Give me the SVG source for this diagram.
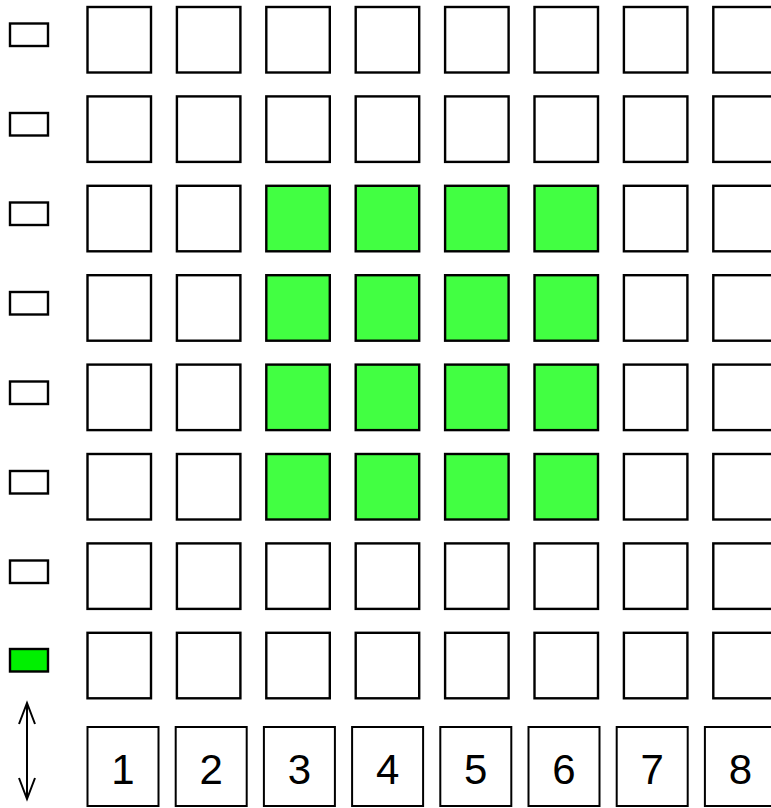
<svg xmlns="http://www.w3.org/2000/svg" width="771" height="808" viewBox="0 0 771 808">
<style>
.c{fill:#fff;stroke:#000;stroke-width:2.4}
.g{fill:#42ff42;stroke:#000;stroke-width:2.4}
.s{fill:#fff;stroke:#000;stroke-width:2.4}
.sg{fill:#00f000;stroke:#000;stroke-width:2.4}
.b{fill:#fff;stroke:#000;stroke-width:2}
.t{font-family:"Liberation Sans",Arial,sans-serif;font-size:42px;text-anchor:middle;fill:#000}
.a{fill:none;stroke:#000;stroke-width:2}
</style>
<rect width="771" height="808" fill="#fff"/>
<g id="indicators">
<rect id="ind1" class="s" x="10" y="23.5" width="38" height="22.5"/>
<rect id="ind2" class="s" x="10" y="113" width="38" height="22.5"/>
<rect id="ind3" class="s" x="10" y="202.5" width="38" height="22.5"/>
<rect id="ind4" class="s" x="10" y="292" width="38" height="22.5"/>
<rect id="ind5" class="s" x="10" y="381.5" width="38" height="22.5"/>
<rect id="ind6" class="s" x="10" y="471" width="38" height="22.5"/>
<rect id="ind7" class="s" x="10" y="560.5" width="38" height="22.5"/>
<rect id="ind8" class="sg" x="10" y="649" width="38" height="22.5"/>
</g>
<g id="grid">
<g id="row1">
<rect class="c" x="87.5" y="7" width="63.5" height="65.5"/>
<rect class="c" x="176.9" y="7" width="63.5" height="65.5"/>
<rect class="c" x="266.3" y="7" width="63.5" height="65.5"/>
<rect class="c" x="355.7" y="7" width="63.5" height="65.5"/>
<rect class="c" x="445.1" y="7" width="63.5" height="65.5"/>
<rect class="c" x="534.5" y="7" width="63.5" height="65.5"/>
<rect class="c" x="623.9" y="7" width="63.5" height="65.5"/>
<rect class="c" x="713.3" y="7" width="63.5" height="65.5"/>
</g>
<g id="row2">
<rect class="c" x="87.5" y="96.4" width="63.5" height="65.5"/>
<rect class="c" x="176.9" y="96.4" width="63.5" height="65.5"/>
<rect class="c" x="266.3" y="96.4" width="63.5" height="65.5"/>
<rect class="c" x="355.7" y="96.4" width="63.5" height="65.5"/>
<rect class="c" x="445.1" y="96.4" width="63.5" height="65.5"/>
<rect class="c" x="534.5" y="96.4" width="63.5" height="65.5"/>
<rect class="c" x="623.9" y="96.4" width="63.5" height="65.5"/>
<rect class="c" x="713.3" y="96.4" width="63.5" height="65.5"/>
</g>
<g id="row3">
<rect class="c" x="87.5" y="185.8" width="63.5" height="65.5"/>
<rect class="c" x="176.9" y="185.8" width="63.5" height="65.5"/>
<rect class="g" x="266.3" y="185.8" width="63.5" height="65.5"/>
<rect class="g" x="355.7" y="185.8" width="63.5" height="65.5"/>
<rect class="g" x="445.1" y="185.8" width="63.5" height="65.5"/>
<rect class="g" x="534.5" y="185.8" width="63.5" height="65.5"/>
<rect class="c" x="623.9" y="185.8" width="63.5" height="65.5"/>
<rect class="c" x="713.3" y="185.8" width="63.5" height="65.5"/>
</g>
<g id="row4">
<rect class="c" x="87.5" y="275.2" width="63.5" height="65.5"/>
<rect class="c" x="176.9" y="275.2" width="63.5" height="65.5"/>
<rect class="g" x="266.3" y="275.2" width="63.5" height="65.5"/>
<rect class="g" x="355.7" y="275.2" width="63.5" height="65.5"/>
<rect class="g" x="445.1" y="275.2" width="63.5" height="65.5"/>
<rect class="g" x="534.5" y="275.2" width="63.5" height="65.5"/>
<rect class="c" x="623.9" y="275.2" width="63.5" height="65.5"/>
<rect class="c" x="713.3" y="275.2" width="63.5" height="65.5"/>
</g>
<g id="row5">
<rect class="c" x="87.5" y="364.6" width="63.5" height="65.5"/>
<rect class="c" x="176.9" y="364.6" width="63.5" height="65.5"/>
<rect class="g" x="266.3" y="364.6" width="63.5" height="65.5"/>
<rect class="g" x="355.7" y="364.6" width="63.5" height="65.5"/>
<rect class="g" x="445.1" y="364.6" width="63.5" height="65.5"/>
<rect class="g" x="534.5" y="364.6" width="63.5" height="65.5"/>
<rect class="c" x="623.9" y="364.6" width="63.5" height="65.5"/>
<rect class="c" x="713.3" y="364.6" width="63.5" height="65.5"/>
</g>
<g id="row6">
<rect class="c" x="87.5" y="454" width="63.5" height="65.5"/>
<rect class="c" x="176.9" y="454" width="63.5" height="65.5"/>
<rect class="g" x="266.3" y="454" width="63.5" height="65.5"/>
<rect class="g" x="355.7" y="454" width="63.5" height="65.5"/>
<rect class="g" x="445.1" y="454" width="63.5" height="65.5"/>
<rect class="g" x="534.5" y="454" width="63.5" height="65.5"/>
<rect class="c" x="623.9" y="454" width="63.5" height="65.5"/>
<rect class="c" x="713.3" y="454" width="63.5" height="65.5"/>
</g>
<g id="row7">
<rect class="c" x="87.5" y="543.4" width="63.5" height="65.5"/>
<rect class="c" x="176.9" y="543.4" width="63.5" height="65.5"/>
<rect class="c" x="266.3" y="543.4" width="63.5" height="65.5"/>
<rect class="c" x="355.7" y="543.4" width="63.5" height="65.5"/>
<rect class="c" x="445.1" y="543.4" width="63.5" height="65.5"/>
<rect class="c" x="534.5" y="543.4" width="63.5" height="65.5"/>
<rect class="c" x="623.9" y="543.4" width="63.5" height="65.5"/>
<rect class="c" x="713.3" y="543.4" width="63.5" height="65.5"/>
</g>
<g id="row8">
<rect class="c" x="87.5" y="632.8" width="63.5" height="65.5"/>
<rect class="c" x="176.9" y="632.8" width="63.5" height="65.5"/>
<rect class="c" x="266.3" y="632.8" width="63.5" height="65.5"/>
<rect class="c" x="355.7" y="632.8" width="63.5" height="65.5"/>
<rect class="c" x="445.1" y="632.8" width="63.5" height="65.5"/>
<rect class="c" x="534.5" y="632.8" width="63.5" height="65.5"/>
<rect class="c" x="623.9" y="632.8" width="63.5" height="65.5"/>
<rect class="c" x="713.3" y="632.8" width="63.5" height="65.5"/>
</g>
</g>
<g id="buttons">
<g id="btn1"><rect class="b" x="87.5" y="727" width="71" height="79"/><text class="t" x="123" y="784">1</text></g>
<g id="btn2"><rect class="b" x="175.7" y="727" width="71" height="79"/><text class="t" x="211.2" y="784">2</text></g>
<g id="btn3"><rect class="b" x="263.9" y="727" width="71" height="79"/><text class="t" x="299.4" y="784">3</text></g>
<g id="btn4"><rect class="b" x="352.1" y="727" width="71" height="79"/><text class="t" x="387.6" y="784">4</text></g>
<g id="btn5"><rect class="b" x="440.3" y="727" width="71" height="79"/><text class="t" x="475.8" y="784">5</text></g>
<g id="btn6"><rect class="b" x="528.5" y="727" width="71" height="79"/><text class="t" x="564" y="784">6</text></g>
<g id="btn7"><rect class="b" x="616.7" y="727" width="71" height="79"/><text class="t" x="652.2" y="784">7</text></g>
<g id="btn8"><rect class="b" x="704.9" y="727" width="71" height="79"/><text class="t" x="740.4" y="784">8</text></g>
</g>
<g id="connectors">
<path class="a" d="M27 703 V799 M19 724 L27 703 L35 724 M19 778 L27 799 L35 778"/>
</g>
</svg>
